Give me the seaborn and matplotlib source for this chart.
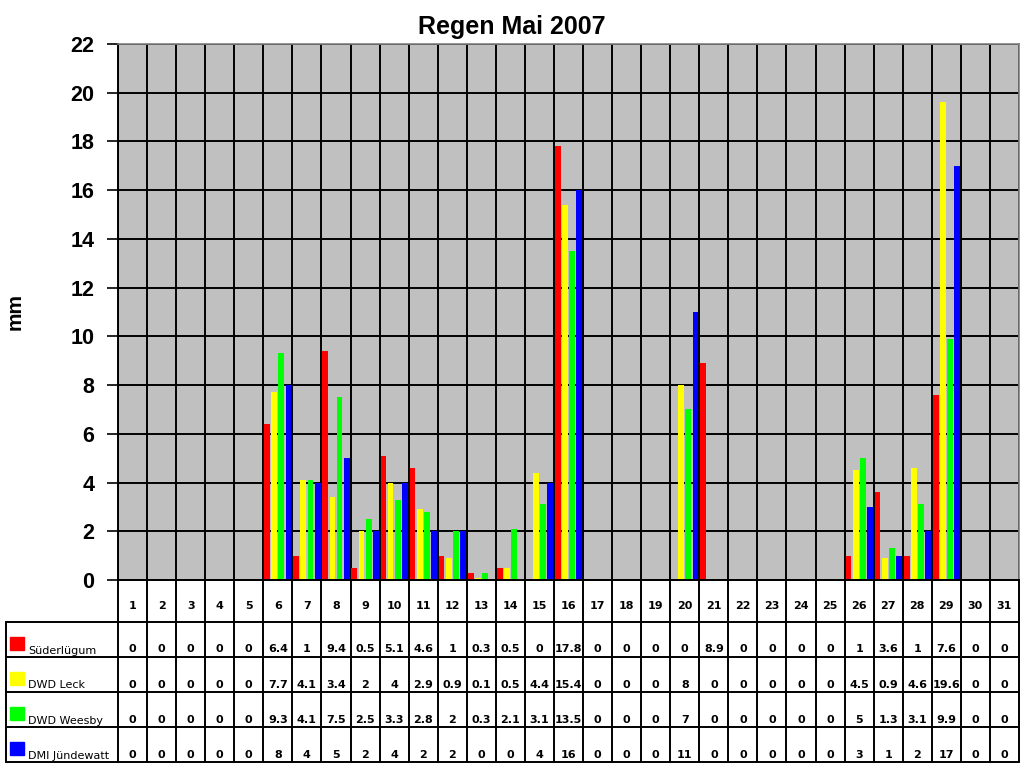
import numpy as np
import pandas as pd
import matplotlib
matplotlib.use("Agg")
import matplotlib.pyplot as plt
import seaborn as sns
from matplotlib.patches import Rectangle

days = [str(d) for d in range(1, 32)]
series_names = ["Süderlügum", "DWD Leck", "DWD Weesby", "DMI Jündewatt"]
colors = ["#FF0000", "#FFFF00", "#00FF00", "#0000FF"]

suederluegum = [0, 0, 0, 0, 0, 6.4, 1, 9.4, 0.5, 5.1, 4.6, 1, 0.3, 0.5, 0, 17.8,
                0, 0, 0, 0, 8.9, 0, 0, 0, 0, 1, 3.6, 1, 7.6, 0, 0]
dwd_leck = [0, 0, 0, 0, 0, 7.7, 4.1, 3.4, 2, 4, 2.9, 0.9, 0.1, 0.5, 4.4, 15.4,
            0, 0, 0, 8, 0, 0, 0, 0, 0, 4.5, 0.9, 4.6, 19.6, 0, 0]
dwd_weesby = [0, 0, 0, 0, 0, 9.3, 4.1, 7.5, 2.5, 3.3, 2.8, 2, 0.3, 2.1, 3.1, 13.5,
              0, 0, 0, 7, 0, 0, 0, 0, 0, 5, 1.3, 3.1, 9.9, 0, 0]
dmi_juendewatt = [0, 0, 0, 0, 0, 8, 4, 5, 2, 4, 2, 2, 0, 0, 4, 16,
                  0, 0, 0, 11, 0, 0, 0, 0, 0, 3, 1, 2, 17, 0, 0]
y_ticks = list(range(0, 23, 2))

all_series = [suederluegum, dwd_leck, dwd_weesby, dmi_juendewatt]
rows = []
for name, vals in zip(series_names, all_series):
    for d, v in zip(days, vals):
        rows.append({"Tag": d, "Station": name, "mm": v})
df = pd.DataFrame(rows)

sns.set_theme(style="white")
plt.rcParams["font.family"] = ["Liberation Sans", "DejaVu Sans"]
for key in ["text.color", "axes.labelcolor", "xtick.color", "ytick.color"]:
    plt.rcParams[key] = "black"

W, H = 1024, 768
fig = plt.figure(figsize=(W / 100, H / 100), dpi=100)
ax_l, ax_r, ax_t, ax_b = 118, 1019, 44, 580
ax = fig.add_axes([ax_l / W, 1 - ax_b / H, (ax_r - ax_l) / W, (ax_b - ax_t) / H])
ax.set_facecolor("#C0C0C0")

sns.barplot(data=df, x="Tag", y="mm", hue="Station", order=days,
            hue_order=series_names, palette=colors, width=0.98, gap=0.18,
            saturation=1, legend=False, ax=ax, linewidth=0)
for p in ax.patches:
    p.set_zorder(3)

ax.set_xlim(-0.5, len(days) - 0.5)
ax.set_ylim(0, 22)
ax.set_yticks(y_ticks)
ax.set_yticklabels([str(t) for t in y_ticks], fontsize=15.5, fontweight="bold")
ax.tick_params(axis="y", which="major", length=8, width=1.2, color="black",
               left=True, pad=9)
ax.set_xticks([])
ax.set_xlabel("")
ax.set_ylabel("mm", fontsize=15, fontweight="bold")
ax.yaxis.set_label_coords(-(ax_l - 25) / (ax_r - ax_l), 0.5)

for k in range(len(days) + 1):
    ax.axvline(k - 0.5, color="black", lw=1.4, zorder=1)
for t in y_ticks:
    ax.axhline(t, color="black", lw=1.4, zorder=1)
for s in ["top", "right"]:
    ax.spines[s].set_color("#808080")
    ax.spines[s].set_linewidth(1.2)
ax.spines["left"].set_color("black")
ax.spines["bottom"].set_color("black")
ax.spines["left"].set_linewidth(1.4)
ax.spines["bottom"].set_linewidth(1.4)

fig.text(0.5, 1 - 27 / H, "Regen Mai 2007", ha="center", va="center",
         fontsize=18, fontweight="bold")

# ---- data table below the plot ----
col_w = (ax_r - ax_l) / len(days)
tb_left, tb_top, tb_bot = 6, 580, 762
label_cols = (ax_l - tb_left) / col_w
tax = fig.add_axes([tb_left / W, 1 - tb_bot / H, (ax_r - tb_left) / W, (tb_bot - tb_top) / H])
tax.set_xlim(-label_cols - 0.5, len(days) - 0.5)
row_edges = [0, 42, 76.5, 111.5, 147, 182]  # pixel offsets from top
tax.set_ylim(182, 0)
tax.axis("off")

tfont = ["DejaVu Sans"]
lw = 1.4
tax.plot([-0.5, len(days) - 0.5], [0, 0], color="black", lw=lw, clip_on=False)
for e in row_edges[1:]:
    tax.plot([-label_cols - 0.5, len(days) - 0.5], [e, e], color="black", lw=lw, clip_on=False)
for k in range(len(days) + 1):
    tax.plot([k - 0.5, k - 0.5], [0, 182], color="black", lw=lw, clip_on=False)
tax.plot([-label_cols - 0.5, -label_cols - 0.5], [42, 182], color="black", lw=lw, clip_on=False)

for i, d in enumerate(days):
    tax.text(i, 26, d, ha="center", va="center", fontsize=8, fontweight="bold",
             family=tfont)
for r, (name, vals, c) in enumerate(zip(series_names, all_series, colors)):
    top, bot = row_edges[r + 1], row_edges[r + 2]
    for i, v in enumerate(vals):
        tax.text(i, bot - 7, f"{v:g}", ha="center", va="center", fontsize=8,
                 fontweight="bold", family=tfont)
    x0 = -label_cols - 0.5 + 4 / col_w
    tax.add_patch(Rectangle((x0, bot - 20), 14 / col_w, 13, color=c, clip_on=False))
    tax.text(-label_cols - 0.5 + 22 / col_w, bot - 6, name, ha="left", va="center",
             fontsize=8, family=tfont)

fig.savefig("out.png", dpi=100)
